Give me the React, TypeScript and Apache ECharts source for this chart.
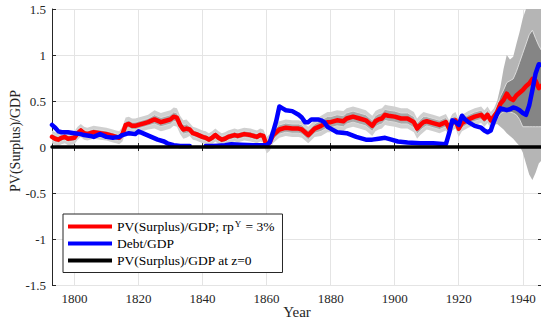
import React, { useEffect, useRef } from "react";
import * as echarts from "echarts";

// Present value of surpluses relative to GDP (rp^Y = 3%)
const surplusYears = [
  1793, 1794, 1795, 1796, 1797, 1798, 1800, 1801, 1802, 1803, 1804, 1806, 1808, 1810, 1812, 1813,
  1814, 1815, 1816, 1817, 1818, 1819, 1820, 1822, 1823, 1825, 1827, 1828, 1830, 1831, 1832, 1833,
  1834, 1835, 1836, 1837, 1838, 1840, 1841, 1842, 1843, 1844, 1845, 1846, 1847, 1848, 1850, 1851,
  1853, 1855, 1857, 1858, 1859, 1860, 1861, 1862, 1863, 1864, 1866, 1868, 1870, 1871, 1872, 1873,
  1875, 1877, 1879, 1880, 1882, 1884, 1885, 1887, 1889, 1891, 1893, 1894, 1895, 1896, 1897, 1898,
  1900, 1902, 1904, 1906, 1907, 1908, 1909, 1910, 1912, 1914, 1916, 1917, 1918, 1919, 1920, 1921,
  1922, 1923, 1925, 1927, 1928, 1929, 1930, 1931, 1932, 1933, 1934, 1935, 1936, 1937, 1938, 1939,
  1940, 1941, 1942, 1943, 1944, 1945, 1946,
];
const surplus = [
  0.11, 0.09, 0.08, 0.1, 0.11, 0.09, 0.1, 0.15, 0.18, 0.15, 0.14, 0.16, 0.15, 0.14, 0.12, 0.11,
  0.1, 0.14, 0.24, 0.25, 0.23, 0.23, 0.24, 0.26, 0.27, 0.3, 0.27, 0.28, 0.3, 0.33, 0.32, 0.24,
  0.19, 0.2, 0.19, 0.15, 0.14, 0.11, 0.1, 0.08, 0.1, 0.13, 0.1, 0.08, 0.09, 0.11, 0.13, 0.12,
  0.14, 0.13, 0.11, 0.13, 0.12, 0.02, 0.05, 0.13, 0.16, 0.19, 0.21, 0.2, 0.2, 0.19, 0.16, 0.13,
  0.2, 0.23, 0.27, 0.27, 0.29, 0.28, 0.31, 0.33, 0.31, 0.29, 0.23, 0.28, 0.3, 0.31, 0.35, 0.34,
  0.33, 0.31, 0.31, 0.27, 0.2, 0.24, 0.27, 0.28, 0.26, 0.24, 0.27, 0.2, 0.27, 0.29, 0.2, 0.26,
  0.28, 0.3, 0.33, 0.35, 0.31, 0.35, 0.29, 0.33, 0.38, 0.47, 0.51, 0.58, 0.53, 0.51, 0.56, 0.59,
  0.62, 0.66, 0.69, 0.74, 0.72, 0.64, 0.67,
];

// Debt relative to GDP (null marks the years without an observation)
const debtYears = [
  1793, 1794, 1795, 1796, 1798, 1800, 1802, 1803, 1805, 1806, 1808, 1810, 1812, 1814, 1815, 1817,
  1819, 1820, 1822, 1824, 1826, 1828, 1829, 1831, 1833, 1836, 1837, 1841, 1843, 1845, 1847, 1849,
  1852, 1856, 1860, 1861, 1862, 1863, 1864, 1865, 1866, 1868, 1870, 1871, 1872, 1873, 1874, 1876,
  1877, 1878, 1879, 1880, 1882, 1885, 1888, 1891, 1893, 1895, 1897, 1899, 1901, 1904, 1908, 1912,
  1916, 1917, 1918, 1919, 1920, 1921, 1922, 1923, 1925, 1927, 1928, 1929, 1930, 1931, 1932, 1933,
  1934, 1935, 1936, 1937, 1938, 1939, 1940, 1941, 1942, 1943, 1944, 1945, 1946,
];
const debt = [
  0.24, 0.21, 0.17, 0.16, 0.16, 0.15, 0.14, 0.13, 0.12, 0.11, 0.14, 0.11, 0.1, 0.11, 0.13, 0.15,
  0.14, 0.17, 0.14, 0.11, 0.08, 0.06, 0.04, 0.02, 0.01, 0.01, null, 0.01, 0.01, 0.015, 0.02, 0.03,
  0.025, 0.02, 0.02, 0.05, 0.16, 0.28, 0.44, 0.42, 0.4, 0.39, 0.35, 0.32, 0.27, 0.27, 0.3, 0.3,
  0.29, 0.27, 0.22, 0.2, 0.16, 0.15, 0.11, 0.08, 0.08, 0.09, 0.1, 0.08, 0.06, 0.05, 0.04, 0.04,
  0.03, 0.15, 0.29, 0.27, 0.24, 0.34, 0.3, 0.27, 0.23, 0.21, 0.18, 0.16, 0.18, 0.28, 0.36, 0.42,
  0.41, 0.4, 0.41, 0.43, 0.42, 0.4, 0.37, 0.35, 0.45, 0.62, 0.8, 0.9, 0.89,
];

// Half-widths of the confidence bands around the surplus path, by period start
const bandPeriods = [1793, 1815, 1825, 1836, 1860, 1876, 1910];
const innerHalfWidth = [0.035, 0.04, 0.05, 0.035, 0.05, 0.06, 0.05];
const outerHalfWidth = [0.07, 0.08, 0.1, 0.07, 0.09, 0.11, 0.09];

// Band bounds once the bands fan out
const tailYears = [1932, 1933, 1934, 1935, 1936, 1937, 1938, 1939, 1940, 1941, 1942, 1943, 1944, 1945, 1946];
const tailInnerLo = [0.31, 0.36, 0.38, 0.4, 0.38, 0.37, 0.35, 0.3, 0.22, 0.22, 0.22, 0.22, 0.22, 0.22, 0.22];
const tailInnerHi = [0.45, 0.55, 0.62, 0.7, 0.72, 0.74, 0.82, 0.92, 1.02, 1.12, 1.22, 1.27, 1.18, 1.1, 1.04];
const tailOuterLo = [0.25, 0.22, 0.19, 0.15, 0.12, 0.09, 0.05, 0.01, -0.06, -0.18, -0.3, -0.36, -0.28, -0.18, -0.14];
const tailOuterHi = [0.5, 0.65, 0.85, 1.0, 0.95, 0.98, 1.12, 1.25, 1.4, 1.6, 1.8, 1.8, 1.8, 1.8, 1.8];

const xTicks = [1800, 1820, 1840, 1860, 1880, 1900, 1920, 1940];
const xMin = 1793;
const xMax = 1946;
const yMin = -1.5;
const yMax = 1.5;
const yStep = 0.5;

const SURPLUS_NAME = "PV(Surplus)/GDP; rpY = 3%";
const DEBT_NAME = "Debt/GDP";
const ZERO_NAME = "PV(Surplus)/GDP at z=0";

const FONT = "'Liberation Serif', 'Times New Roman', serif";
const AXIS_COLOR = "#262626";
const GRID_COLOR = "#e4e4e4";

type Row = [number, number, number];

function periodIndex(year: number): number {
  let k = 0;
  for (let i = 0; i < bandPeriods.length; i++) if (year >= bandPeriods[i]) k = i;
  return k;
}

function buildBands(): { inner: Row[]; outer: Row[] } {
  const inner: Row[] = [];
  const outer: Row[] = [];
  surplusYears.forEach((year, i) => {
    if (year >= tailYears[0]) return;
    const k = periodIndex(year);
    inner.push([year, surplus[i] - innerHalfWidth[k], surplus[i] + innerHalfWidth[k]]);
    outer.push([year, surplus[i] - outerHalfWidth[k], surplus[i] + outerHalfWidth[k]]);
  });
  tailYears.forEach((year, i) => {
    inner.push([year, tailInnerLo[i], tailInnerHi[i]]);
    outer.push([year, tailOuterLo[i], tailOuterHi[i]]);
  });
  return { inner, outer };
}

const clampY = (v: number) => Math.max(yMin, Math.min(yMax, v));

// Narrow bands read lighter; the fan at the end is shaded darker.
function bandSeries(rows: Row[], narrowFill: string, wideFill: string, edge: string | null, z: number) {
  return {
    type: "custom",
    silent: true,
    clip: true,
    z,
    data: rows,
    encode: { x: 0, y: [1, 2] },
    renderItem: (params: any, api: any) => {
      if (params.dataIndex !== 0) return null;
      const upper = rows.map((r) => api.coord([r[0], clampY(r[2])]));
      const lower = rows.map((r) => api.coord([r[0], clampY(r[1])]));
      const xa = api.coord([tailYears[0] - 1.5, 0])[0];
      const xb = api.coord([tailYears[0] + 0.5, 0])[0];
      const fill = {
        type: "linear",
        global: true,
        x: xa,
        y: 0,
        x2: xb,
        y2: 0,
        colorStops: [
          { offset: 0, color: narrowFill },
          { offset: 1, color: wideFill },
        ],
      };
      const children: any[] = [
        {
          type: "polygon",
          shape: { points: upper.concat(lower.slice().reverse()) },
          style: { fill },
        },
      ];
      if (edge) {
        children.push({
          type: "polyline",
          shape: { points: upper },
          style: { stroke: edge, lineWidth: 1, fill: null },
        });
        children.push({
          type: "polyline",
          shape: { points: lower },
          style: { stroke: edge, lineWidth: 1, fill: null },
        });
      }
      return { type: "group", children };
    },
  };
}

export default function App() {
  const ref = useRef<HTMLDivElement>(null);

  useEffect(() => {
    document.body.style.margin = "0";
    if (!ref.current) return;
    const chart = echarts.init(ref.current, null, { renderer: "svg" });
    const { inner, outer } = buildBands();

    const lineSeries = (name: string, data: any[], color: string, width: number, z: number) => ({
      type: "line",
      name,
      data,
      z,
      color,
      symbol: "none",
      showSymbol: false,
      connectNulls: false,
      itemStyle: { color },
      lineStyle: { color, width, cap: "round", join: "round" },
      emphasis: { disabled: true },
    });

    chart.setOption({
      animation: false,
      textStyle: { fontFamily: FONT },
      grid: { left: 52, right: -1, top: 9, bottom: 37, outerBoundsMode: "none", containLabel: false },
      xAxis: [
        {
          type: "value",
          min: xMin,
          max: xMax,
          name: "Year",
          nameLocation: "middle",
          nameGap: 19,
          nameMoveOverlap: false,
          nameTextStyle: { fontFamily: FONT, fontSize: 15, color: AXIS_COLOR, lineHeight: 15 },
          axisLine: { show: true, lineStyle: { color: AXIS_COLOR, width: 1 } },
          axisTick: { show: true, inside: true, length: 4, customValues: xTicks, lineStyle: { color: AXIS_COLOR } },
          axisLabel: {
            customValues: xTicks,
            formatter: (v: number) => String(v),
            fontFamily: FONT,
            fontSize: 13,
            color: AXIS_COLOR,
            margin: 7,
          },
          splitLine: { show: true, lineStyle: { color: GRID_COLOR, width: 1 } },
        },
        {
          type: "value",
          position: "top",
          min: xMin,
          max: xMax,
          axisLine: { show: true, lineStyle: { color: AXIS_COLOR, width: 1 } },
          axisTick: { show: true, inside: true, length: 4, customValues: xTicks, lineStyle: { color: AXIS_COLOR } },
          axisLabel: { show: false },
          splitLine: { show: false },
        },
      ],
      yAxis: [
        {
          type: "value",
          min: yMin,
          max: yMax,
          interval: yStep,
          name: "PV(Surplus)/GDP",
          nameLocation: "middle",
          nameGap: 30,
          nameMoveOverlap: false,
          nameTextStyle: { fontFamily: FONT, fontSize: 14, color: AXIS_COLOR, padding: [0, 0, 0, 12] },
          axisLine: { show: true, lineStyle: { color: AXIS_COLOR, width: 1 } },
          axisTick: { show: true, inside: true, length: 4, lineStyle: { color: AXIS_COLOR } },
          axisLabel: { fontFamily: FONT, fontSize: 13, color: AXIS_COLOR, margin: 6 },
          splitLine: { show: true, lineStyle: { color: GRID_COLOR, width: 1 } },
        },
        {
          type: "value",
          position: "right",
          min: yMin,
          max: yMax,
          interval: yStep,
          axisLine: { show: true, lineStyle: { color: AXIS_COLOR, width: 1 } },
          axisTick: { show: true, inside: true, length: 4, lineStyle: { color: AXIS_COLOR } },
          axisLabel: { show: false },
          splitLine: { show: false },
        },
      ],
      legend: {
        data: [SURPLUS_NAME, DEBT_NAME, ZERO_NAME],
        orient: "vertical",
        left: 63,
        top: 214,
        backgroundColor: "#ffffff",
        borderColor: AXIS_COLOR,
        borderWidth: 1,
        borderRadius: 0,
        padding: [5, 8, 5, 5],
        itemGap: 3,
        itemWidth: 44,
        itemHeight: 4,
        icon: "rect",
        selectedMode: false,
        textStyle: {
          fontFamily: FONT,
          fontSize: 13.5,
          color: "#000000",
          rich: {
            t: { fontFamily: FONT, fontSize: 13.5, color: "#000000" },
            s: { fontFamily: FONT, fontSize: 9, color: "#000000", verticalAlign: "top", padding: [0, 1, 6, 1] },
          },
        },
        formatter: (name: string) =>
          name === SURPLUS_NAME ? "{t|PV(Surplus)/GDP; rp}{s|Y}{t| = 3%}" : name,
      },
      series: [
        bandSeries(outer, "#d0d0d0", "#b5b5b5", null, 1),
        bandSeries(inner, "#a9a9a9", "#858585", "#dcdcdc", 2),
        lineSeries(SURPLUS_NAME, surplusYears.map((y, i) => [y, surplus[i]]), "#ff0000", 4.5, 4),
        lineSeries(DEBT_NAME, debtYears.map((y, i) => [y, debt[i]]), "#0000ff", 4.5, 5),
        lineSeries(ZERO_NAME, [[xMin, 0], [xMax, 0]], "#000000", 3.5, 6),
      ],
    });

    return () => chart.dispose();
  }, []);

  return (
    <div
      ref={ref}
      style={{ position: "absolute", left: 0, top: 0, width: 541, height: 322 }}
    />
  );
}
